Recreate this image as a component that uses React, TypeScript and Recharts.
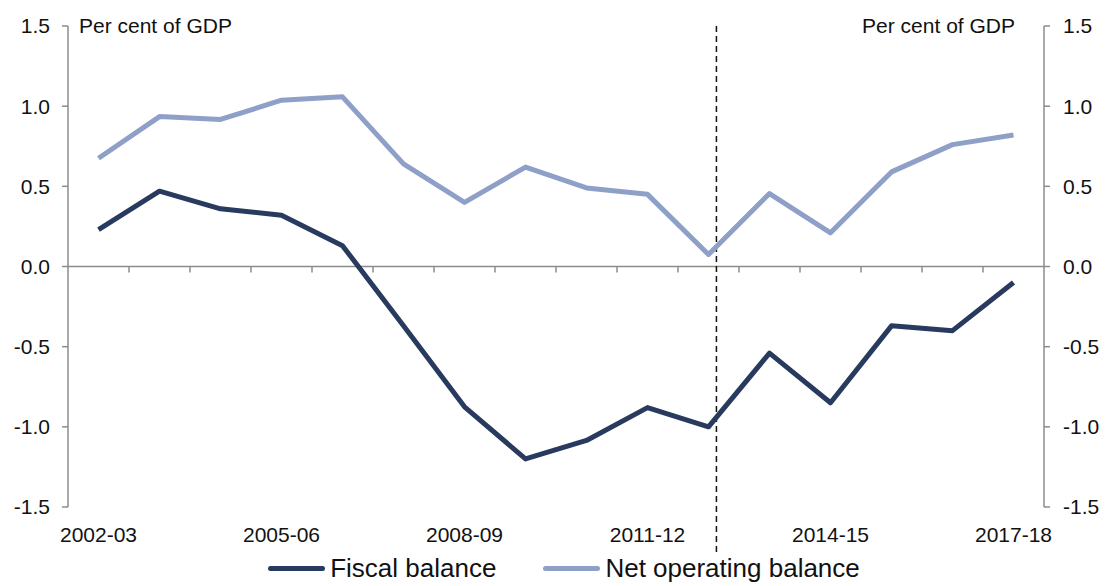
import {
  LineChart,
  Line,
  XAxis,
  YAxis,
  ReferenceLine,
  Label,
  Legend,
} from 'recharts'

const categories = [
  '2002-03', '2003-04', '2004-05', '2005-06', '2006-07', '2007-08', '2008-09', '2009-10',
  '2010-11', '2011-12', '2012-13', '2013-14', '2014-15', '2015-16', '2016-17', '2017-18',
]
const fiscalBalance = [
  0.23, 0.47, 0.36, 0.32, 0.13, -0.37, -0.875, -1.2, -1.085, -0.88, -1.0, -0.54, -0.85, -0.37, -0.4, -0.1,
]
const netOperatingBalance = [
  0.675, 0.935, 0.917, 1.037, 1.058, 0.64, 0.4, 0.62, 0.49, 0.45, 0.075, 0.455, 0.21, 0.59, 0.76, 0.82,
]
const xTicks = [0, 3, 6, 9, 12, 15]
const yTicks = [-1.5, -1, -0.5, 0, 0.5, 1, 1.5]
const forecastMarker = 10.13

const FONT = '"Liberation Sans", Arial, sans-serif'
const DARK = '#283A5E'
const LIGHT = '#8EA0C8'
const AXIS = '#8C8C8C'

const data = categories.map((c, i) => ({
  idx: i,
  label: c,
  fiscal: fiscalBalance[i],
  net: netOperatingBalance[i],
}))

// boundaries between categories, where the zero-line ticks go
const boundaries = categories.slice(1).map((_, i) => i + 0.5)

const legendItems = [
  { name: 'Fiscal balance', color: DARK },
  { name: 'Net operating balance', color: LIGHT },
]

function ChartLegend() {
  return (
    <div
      style={{
        display: 'flex',
        justifyContent: 'center',
        alignItems: 'center',
        paddingLeft: 14,
        fontFamily: FONT,
        fontSize: 26,
        color: '#111',
        height: 36,
      }}
    >
      {legendItems.map((item, i) => (
        <div
          key={item.name}
          style={{ display: 'flex', alignItems: 'center', marginLeft: i === 0 ? 0 : 47 }}
        >
          <span
            style={{
              display: 'inline-block',
              width: 57,
              height: 5,
              borderRadius: 3,
              background: item.color,
              marginRight: 5,
            }}
          />
          <span style={{ lineHeight: '26px' }}>{item.name}</span>
        </div>
      ))}
    </div>
  )
}

export default function App() {
  const tick = { fontSize: 21, fill: '#111', fontFamily: FONT }
  return (
    <div style={{ position: 'absolute', left: 0, top: 0, background: '#fff' }}>
      <LineChart
        width={1106}
        height={586}
        data={data}
        margin={{ top: 26, right: 0, bottom: 0, left: 8 }}
      >
        <XAxis
          dataKey="idx"
          type="number"
          domain={[-0.5, 15.5]}
          ticks={xTicks}
          tickFormatter={(v: number) => categories[v]}
          axisLine={false}
          tickLine={false}
          tickSize={0}
          tickMargin={20}
          height={43}
          tick={tick}
          interval={0}
        />
        <YAxis
          yAxisId="left"
          type="number"
          domain={[-1.5, 1.5]}
          ticks={yTicks}
          tickFormatter={(v: number) => v.toFixed(1)}
          axisLine={{ stroke: AXIS, strokeWidth: 1.5 }}
          tickLine={{ stroke: AXIS, strokeWidth: 1.5 }}
          tickSize={6}
          tickMargin={12}
          width={60}
          tick={tick}
          interval={0}
        />
        <YAxis
          yAxisId="right"
          type="number"
          orientation="right"
          domain={[-1.5, 1.5]}
          ticks={yTicks}
          tickFormatter={(v: number) => v.toFixed(1)}
          axisLine={{ stroke: AXIS, strokeWidth: 1.5 }}
          tickLine={{ stroke: AXIS, strokeWidth: 1.5 }}
          tickSize={6}
          tickMargin={13}
          width={62}
          tick={tick}
          interval={0}
        />
        <Legend verticalAlign="bottom" height={36} content={() => <ChartLegend />} />

        <ReferenceLine yAxisId="left" y={0} stroke={AXIS} strokeWidth={1.5} />
        {boundaries.map((b) => (
          <ReferenceLine
            key={b}
            yAxisId="left"
            segment={[
              { x: b, y: 0 },
              { x: b, y: -0.037 },
            ]}
            stroke={AXIS}
            strokeWidth={1.5}
          />
        ))}
        <ReferenceLine yAxisId="left" y={1.5} stroke="none">
          <Label
            value="Per cent of GDP"
            position="insideLeft"
            offset={11}
            style={{ fontSize: 21, fill: '#111', fontFamily: FONT }}
          />
          <Label
            value="Per cent of GDP"
            position="insideRight"
            offset={29}
            style={{ fontSize: 21, fill: '#111', fontFamily: FONT }}
          />
        </ReferenceLine>
        <ReferenceLine
          yAxisId="left"
          segment={[
            { x: forecastMarker, y: 1.5 },
            { x: forecastMarker, y: -1.79 },
          ]}
          stroke="#111"
          strokeWidth={1.5}
          strokeDasharray="6 4"
          ifOverflow="visible"
        />

        <Line
          yAxisId="left"
          dataKey="net"
          name="Net operating balance"
          stroke={LIGHT}
          strokeWidth={5}
          dot={false}
          activeDot={false}
          strokeLinejoin="round"
          isAnimationActive={false}
        />
        <Line
          yAxisId="right"
          dataKey="fiscal"
          name="Fiscal balance"
          stroke={DARK}
          strokeWidth={5}
          dot={false}
          activeDot={false}
          strokeLinejoin="round"
          isAnimationActive={false}
        />
      </LineChart>
    </div>
  )
}
